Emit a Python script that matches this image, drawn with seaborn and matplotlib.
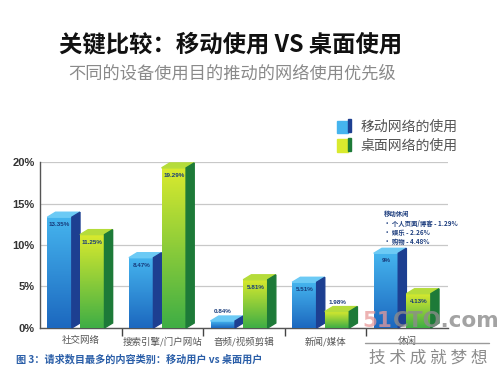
"""Mobile vs desktop web usage: grouped 3D-look bars."""

import matplotlib

matplotlib.use("Agg")
import matplotlib.pyplot as plt
import matplotlib.colors as mcolors
from matplotlib.patches import Polygon
import numpy as np
import pandas as pd
import seaborn as sns

categories = ["社交网络", "搜索引擎/门户网站", "音频/视频剪辑", "新闻/媒体", "休闲"]
series_names = ["移动网络的使用", "桌面网络的使用"]
mobile = [13.35, 8.47, 0.84, 5.51, 9.0]
desktop = [11.25, 19.29, 5.81, 1.98, 4.13]
mobile_labels = ["13.35%", "8.47%", "0.84%", "5.51%", "9%"]
desktop_labels = ["11.25%", "19.29%", "5.81%", "1.98%", "4.13%"]
yticks = [0, 5, 10, 15, 20]

CJK = ["Noto Sans CJK SC", "DejaVu Sans"]
NARROW = ["Liberation Sans Narrow", "Liberation Sans", "DejaVu Sans"]

# front gradient (top, bottom), top face, side face
STYLE = {
    series_names[0]: ("#45b4ee", "#1c68bf", "#6ccaf5", "#1d3f91"),
    series_names[1]: ("#d9ea2e", "#3fae45", "#b5dc3a", "#1d7a38"),
}

df = pd.DataFrame({
    "category": categories * 2,
    "series": [series_names[0]] * 5 + [series_names[1]] * 5,
    "value": mobile + desktop,
    "label": mobile_labels + desktop_labels,
})

sns.set_theme(style="white")
plt.rcParams["font.family"] = CJK

fig = plt.figure(figsize=(5.02, 3.78), dpi=100)
ax = fig.add_axes([0.0797, 0.1323, 0.8127, 0.4391])
sns.barplot(data=df, x="category", y="value", hue="series", order=categories,
            hue_order=series_names, palette=["#2a8fd8", "#8cc63e"],
            width=0.8, ax=ax, legend=False, zorder=3)

ax.set_xlim(-0.5, 4.5)
ax.set_ylim(0, 20)
ax.set_yticks(yticks)
ax.set_yticklabels([f"{v}%" for v in yticks], fontsize=8, fontweight="bold",
                   color="#333333", family=NARROW)
ax.grid(axis="y", color="#c8c8c8", linewidth=0.9, zorder=0)
ax.set_xlabel("")
ax.set_ylabel("")
ax.set_xticks(range(len(categories)))
ax.set_xticklabels(categories, fontsize=6.8, color="#555555")
ax.set_xticks([0.5, 1.5, 2.5, 3.5], minor=True)
ax.tick_params(axis="x", which="major", length=0, pad=6)
ax.tick_params(axis="x", which="minor", length=6, width=1, color="#444444",
               direction="out", bottom=True)
ax.tick_params(axis="y", length=0, pad=4)
for side in ("top", "right"):
    ax.spines[side].set_visible(False)
for side in ("left", "bottom"):
    ax.spines[side].set_color("#555555")
    ax.spines[side].set_linewidth(1)

dx, dy = 0.1, 0.6
bars = list(ax.patches)
for i, bar in enumerate(bars):
    row = df.iloc[i]
    top_c, bot_c, face_c, side_c = STYLE[row["series"]]
    bar.set_x(bar.get_x() - 0.01)
    bar.set_width(0.30)
    x0, w, h = bar.get_x(), bar.get_width(), bar.get_height()
    bar.set_alpha(0)
    grad = np.linspace(0, 1, 64).reshape(-1, 1)
    cmap = mcolors.LinearSegmentedColormap.from_list("g", [top_c, bot_c])
    img = ax.imshow(grad, cmap=cmap, aspect="auto", extent=(x0, x0 + w, 0, h),
                    origin="upper", zorder=3)
    clip = plt.Rectangle((x0, 0), w, h, transform=ax.transData)
    img.set_clip_path(clip)
    ax.add_patch(Polygon([(x0, h), (x0 + dx, h + dy), (x0 + w + dx, h + dy),
                          (x0 + w, h)], closed=True, color=face_c, zorder=3,
                         clip_on=False))
    ax.add_patch(Polygon([(x0 + w, 0), (x0 + w + dx, dy), (x0 + w + dx, h + dy),
                          (x0 + w, h)], closed=True, color=side_c, zorder=3,
                         clip_on=False))
    text_y = h - 0.9 if h > 2.5 else h + dy + 0.5
    ax.text(x0 + w / 2, text_y, row["label"], ha="center", va="center",
            fontsize=4.5, fontweight="bold", color="#173a7a", zorder=5,
            family=NARROW)
ax.set_xlim(-0.5, 4.5)
ax.set_ylim(0, 20)

# legend with small cube icons
for k, name in enumerate(series_names):
    top_c, bot_c, face_c, side_c = STYLE[name]
    y = 0.664 - k * 0.05
    fig.patches.append(plt.Rectangle((0.672, y - 0.017), 0.022, 0.034,
                                     transform=fig.transFigure, color=top_c))
    fig.patches.append(plt.Rectangle((0.694, y - 0.014), 0.006, 0.034,
                                     transform=fig.transFigure, color=side_c))
    fig.text(0.718, y, name, fontsize=10, color="#555555", va="center")

ax.text(3.72, 14.2, "移动休闲\n• 个人页面/博客 - 1.29%\n• 娱乐 - 2.26%\n• 购物 - 4.48%",
        fontsize=4.6, fontweight="bold", color="#1f3f7f", va="top", ha="left",
        linespacing=1.4, zorder=5)

fig.text(0.46, 0.882, "关键比较：移动使用 VS 桌面使用", ha="center", va="center",
         fontsize=16.8, fontweight="bold", color="#111111")
fig.text(0.462, 0.806, "不同的设备使用目的推动的网络使用优先级", ha="center",
         va="center", fontsize=12.4, color="#8a8a8a")
fig.text(0.032, 0.048, "图 3：请求数目最多的内容类别：移动用户 vs 桌面用户",
         fontsize=7.3, fontweight="bold", color="#2a5ea8", va="center")

# watermark
fig.text(0.722, 0.15, "51", fontsize=15.5, fontweight="bold", color="#e89a9a",
         alpha=0.75, va="center", family=["DejaVu Sans"], zorder=6)
fig.text(0.782, 0.15, "CTO.com", fontsize=15.5, fontweight="bold",
         color="#8c8c8c", alpha=0.8, va="center", family=["DejaVu Sans"],
         zorder=6)
fig.add_artist(plt.Line2D([0.728, 0.975], [0.092, 0.092], color="#9a9a9a",
                          linewidth=1, transform=fig.transFigure))
fig.text(0.735, 0.052, "技 术 成 就 梦 想", fontsize=12, color="#8c8c8c",
         va="center")

fig.savefig("out.png", dpi=100)
